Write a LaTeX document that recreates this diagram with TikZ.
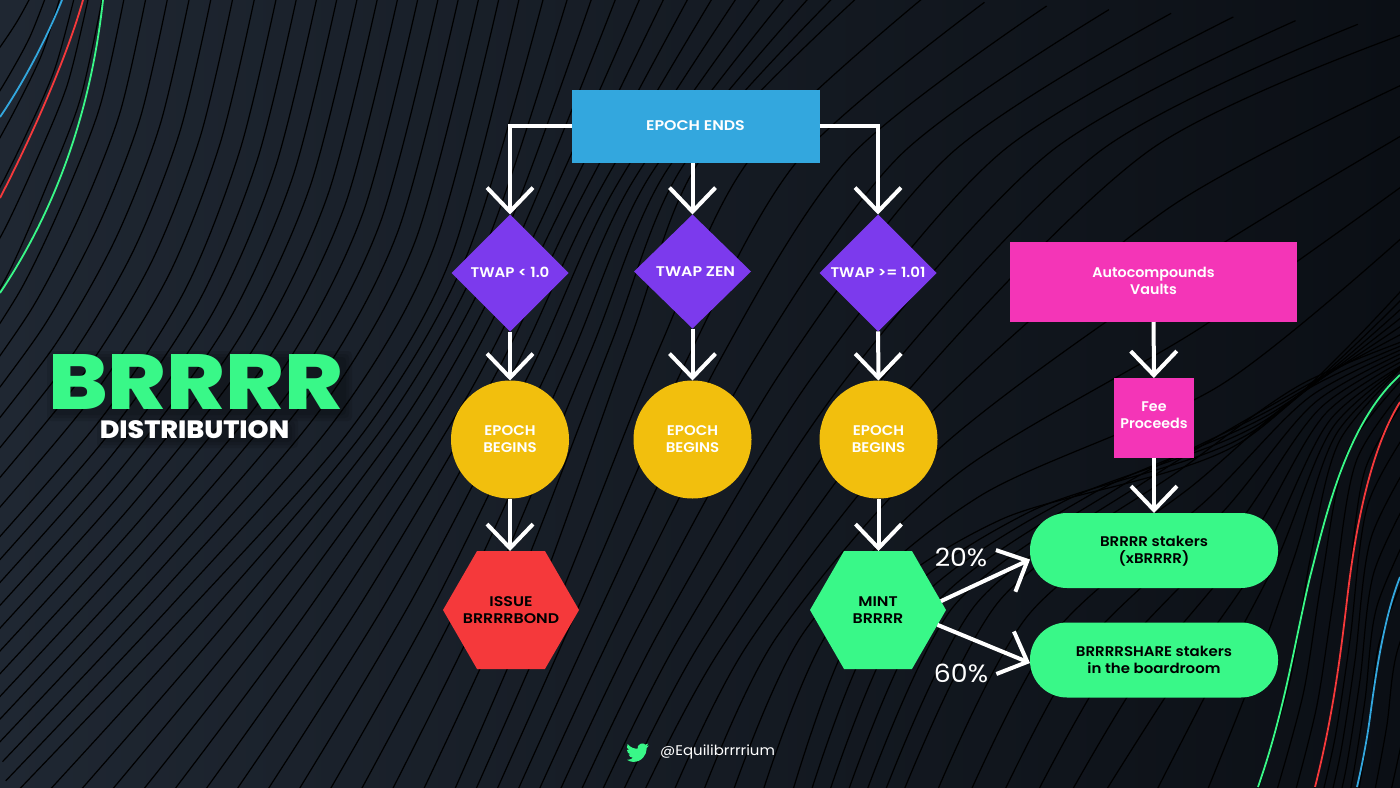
\documentclass[tikz,border=0pt]{standalone}
\usepackage{fontspec}
\setmainfont{Poppins}[FakeStretch=1.07,BoldFont=Poppins SemiBold,BoldFeatures={FakeStretch=1.07}]
\newfontfamily\capsfont{Poppins SemiBold}[FakeStretch=1.13]
\newfontfamily\pinkfont{Poppins SemiBold}[FakeStretch=1.02]
\newfontfamily\titlefont{Poppins ExtraBold}[FakeStretch=1.14]
\newfontfamily\subtitlefont{Poppins ExtraBold}[FakeStretch=1.07]
\usetikzlibrary{arrows.meta,calc,positioning,shapes.geometric,shapes.symbols}
\definecolor{bgleft}{HTML}{1F2732}
\definecolor{bgmid}{HTML}{161C26}
\definecolor{bgright}{HTML}{0B0F15}
\definecolor{mintgreen}{HTML}{39F888}
\definecolor{hotred}{HTML}{F5393B}
\definecolor{sunyellow}{HTML}{F2BF0D}
\definecolor{violet}{HTML}{7C3AED}
\definecolor{skyblue}{HTML}{33A7DE}
\definecolor{hotpink}{HTML}{F435B7}
\tikzset{
  shapetext/.style={inner sep=0pt,outer sep=0pt,align=center,font=\bfseries\fontsize{14}{17}\selectfont},
  epochbox/.style={shapetext,rectangle,fill=skyblue,text=white,minimum width=248pt,minimum height=73pt,font=\capsfont\fontsize{14}{17}\selectfont},
  twapnode/.style={shapetext,diamond,fill=violet,text=white,minimum width=117pt,minimum height=117pt},
  beginnode/.style={shapetext,circle,fill=sunyellow,text=white,minimum size=118pt},
  hexnode/.style={shapetext,signal,signal to=west and east,signal pointer angle=120,inner xsep=-30pt,text=black,minimum width=136pt,minimum height=118pt,font=\capsfont\fontsize{14}{17}\selectfont},
  pinkbox/.style={shapetext,rectangle,fill=hotpink,text=white,font=\pinkfont\fontsize{14}{17}\selectfont},
  pillnode/.style={shapetext,rectangle,rounded corners=37pt,fill=mintgreen,text=black,minimum width=248pt,minimum height=75pt},
  flow/.style={white,line width=4pt,-{Straight Barb[length=24pt,width=46pt,line width=4pt]}},
  percent/.style={inner sep=0pt,text=white,font=\fontsize{25}{25}\selectfont},
  bgline/.style={black,line width=1.2pt},
  accent/.style={line width=1.8pt},
  softshadow/.style={fill=black,opacity=0.1,rounded corners=4pt}
}
\begin{document}
\begin{tikzpicture}[x=1pt,y=-1pt]
\useasboundingbox (0,0) rectangle (1400,787);
\shade[left color=bgleft,middle color=bgmid,right color=bgright] (0,0) rectangle (1400,787);
\begin{scope}
\clip (0,0) rectangle (1400,787);
\foreach \k/\p/\q/\r/\s/\u in {
  A/{20,-10}/{5,5}/{-10,20}/{-30,40}/{-50,60},
  B/{103,-5}/{80,100}/{45,190}/{10,270}/{-30,340},
  C/{277,-5}/{240,150}/{185,290}/{100,420}/{-30,570},
  D/{520,-5}/{450,260}/{350,430}/{180,620}/{9,800},
  E/{860,-5}/{700,160}/{630,340}/{540,590}/{450,800},
  F/{1420,28}/{1150,150}/{900,400}/{720,650}/{640,800},
  G/{1420,270}/{1238,444}/{1000,520}/{860,620}/{790,800},
  M/{1420,335}/{1300,385}/{1180,470}/{1000,600}/{900,800},
  H/{1420,355}/{1330,420}/{1260,560}/{1170,690}/{1100,800},
  I/{1420,350}/{1340,440}/{1310,560}/{1290,680}/{1255,800},
  J/{1420,380}/{1365,470}/{1345,620}/{1330,720}/{1312,800},
  K/{1420,540}/{1380,640}/{1370,720}/{1357,800}/{1350,830},
  L/{1450,600}/{1430,680}/{1420,740}/{1405,800}/{1400,830}}{
  \coordinate (\k1) at (\p);
  \coordinate (\k2) at (\q);
  \coordinate (\k3) at (\r);
  \coordinate (\k4) at (\s);
  \coordinate (\k5) at (\u);
}
\foreach \a/\b/\n in {A/B/6,B/C/8,C/D/12,D/E/14,E/F/9,F/G/5,G/M/6,M/H/6,H/I/3,I/J/3,J/K/5,K/L/3}{
  \foreach \i in {1,...,\n}{
    \pgfmathsetmacro\t{\i/\n}
    \coordinate (q1) at ($(\a1)!\t!(\b1)$);
    \coordinate (q2) at ($(\a2)!\t!(\b2)$);
    \coordinate (q3) at ($(\a3)!\t!(\b3)$);
    \coordinate (q4) at ($(\a4)!\t!(\b4)$);
    \coordinate (q5) at ($(\a5)!\t!(\b5)$);
    \draw[bgline] plot[smooth] coordinates {(q1) (q2) (q3) (q4) (q5)};
  }
}
\draw[accent,skyblue] (62,0) .. controls (46,40) and (22,85) .. (0,117);
\draw[accent,hotred] (83,0) .. controls (66,60) and (30,140) .. (0,198);
\draw[accent,mintgreen] (103,0) .. controls (92,100) and (62,200) .. (0,293);
\draw[accent,mintgreen] (1400,375) .. controls (1345,425) and (1325,520) .. (1310,577) .. controls (1295,640) and (1285,710) .. (1258,787);
\draw[accent,hotred] (1400,402) .. controls (1370,450) and (1355,530) .. (1347,600) .. controls (1340,660) and (1332,720) .. (1315,787);
\draw[accent,skyblue] (1400,577) .. controls (1383,620) and (1375,680) .. (1370,717) .. controls (1367,740) and (1362,765) .. (1357,787);
\end{scope}

\foreach \g in {0,3,6}{
  \fill[softshadow] (53-\g,357-\g) rectangle (346+\g,415+\g);
  \fill[softshadow] (103-\g,424-\g) rectangle (292+\g,442+\g);
}
\node[text=mintgreen,inner sep=0pt,text height=54pt,text depth=0pt,font=\titlefont\fontsize{78}{78}\selectfont] (title) at (195.5,382) {BRRRR};
\node[text=white,inner sep=0pt,text height=18pt,text depth=0pt,font=\subtitlefont\fontsize{25}{25}\selectfont] (subtitle) at (194.5,429) {DISTRIBUTION};

\node[epochbox] (epochends) at (695.5,126) {EPOCH ENDS};
\node[twapnode] (twaplow) at (510,273) {\makebox[0pt]{\raisebox{1pt}{TWAP < 1.0}}};
\node[twapnode,minimum height=114pt,font=\capsfont\fontsize{14}{17}\selectfont] (twapzen) at (692.5,271.5) {\makebox[0pt]{\hspace{6pt}TWAP ZEN}};
\node[twapnode] (twaphigh) at (878,273) {\makebox[0pt]{\raisebox{1pt}{TWAP >= 1.01}}};
\node[beginnode] (beginlow) at (510,439.5) {EPOCH\\BEGINS};
\node[beginnode] (beginzen) at (692.5,439.5) {EPOCH\\BEGINS};
\node[beginnode] (beginhigh) at (878.5,439.5) {EPOCH\\BEGINS};
\node[hexnode,fill=hotred] (issuebond) at (511,610) {ISSUE\\BRRRRBOND};
\node[hexnode,fill=mintgreen] (mint) at (878,610) {MINT\\BRRRR};
\node[pinkbox,minimum width=287pt,minimum height=80pt] (vaults) at (1153.5,282) {Autocompounds\\Vaults\rule[-2pt]{0pt}{2pt}};
\node[pinkbox,minimum width=80pt,minimum height=80pt] (fees) at (1154,418) {Fee\\Proceeds\rule[-6pt]{0pt}{6pt}};
\node[pillnode] (xstakers) at (1154,550.5) {\rule{0pt}{12pt}BRRRR stakers\\(xBRRRR)};
\node[pillnode] (boardroom) at (1154,660) {BRRRRSHARE stakers\\in the boardroom};
\node[percent] (twenty) at (961,557) {20\%};
\node[percent] (sixty) at (961,673) {60\%};
\node[inner sep=0pt,anchor=west,text=white,font=\fontsize{14}{17}\selectfont] (handle) at (660,752) {@Equilibrrrrium};

\draw[flow] (epochends.west) -| (twaplow.north);
\draw[flow] (epochends.south -| twapzen.north) -- (twapzen.north);
\draw[flow] (epochends.east) -| (twaphigh.north);
\draw[flow] (twaplow) -- (beginlow);
\draw[flow] (twapzen) -- (beginzen);
\draw[flow] (twaphigh) -- (beginhigh);
\draw[flow] (beginlow) -- (issuebond.north -| beginlow);
\draw[flow] (beginhigh) -- (mint.north -| beginhigh);
\draw[flow] (vaults) -- (fees);
\draw[flow] (fees) -- (xstakers);
\draw[flow] (mint.8) -- ([yshift=-9pt]xstakers.west);
\draw[flow] (mint.-14) -- ([yshift=-3pt]boardroom.west);

\begin{scope}[shift={(626,741)},x=0.96pt,y=-0.96pt]
\fill[mintgreen] (24,4.6) .. controls (23.1,5) and (22.1,5.25) .. (21.13,5.35)
  .. controls (22.2,4.7) and (22.9,3.75) .. (23.29,2.62)
  .. controls (22.34,3.18) and (21.29,3.58) .. (20.16,3.8)
  .. controls (18.9,2.5) and (16.9,2.1) .. (15.2,2.9)
  .. controls (13,3.9) and (11.4,5.9) .. (12.06,8.1)
  .. controls (7.69,8.1) and (4.07,6.13) .. (1.64,3.16)
  .. controls (0.3,5.3) and (0.9,8.3) .. (3.16,9.73)
  .. controls (2.36,9.7) and (1.6,9.5) .. (0.93,9.12)
  .. controls (0.9,11.5) and (2.6,13.5) .. (4.88,14)
  .. controls (4.15,14.2) and (3.4,14.2) .. (2.67,14.09)
  .. controls (3.3,16) and (5.1,17.4) .. (7.27,17.5)
  .. controls (5.6,18.9) and (3.3,19.8) .. (1.17,19.6)
  .. controls (3.3,21) and (5.4,21.75) .. (7.56,21.75)
  .. controls (16.6,21.75) and (21.55,14.25) .. (21.55,7.76)
  .. controls (21.55,7.55) and (21.55,7.34) .. (21.54,7.13)
  .. controls (22.5,6.44) and (23.34,5.55) .. (24,4.6) -- cycle;
\end{scope}
\end{tikzpicture}
\end{document}
